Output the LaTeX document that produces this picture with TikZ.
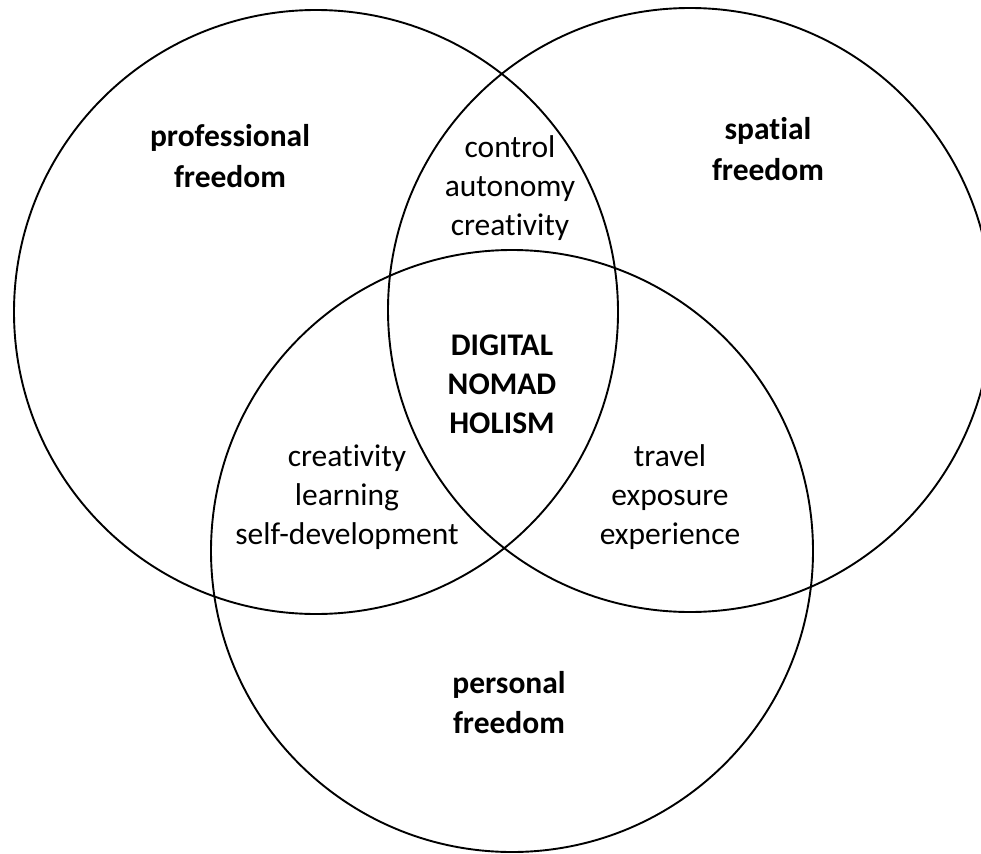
\documentclass[tikz,border=0pt]{standalone}
\usepackage{fontspec}
\setmainfont{Carlito}[Ligatures=NoCommon]
\begin{document}
\begin{tikzpicture}[x=1pt,y=-1pt,
  ring/.style={draw=black,line width=1.9pt},
  lbl/.style={align=center,anchor=base,inner sep=0pt,font=\fontsize{31.5}{39}\selectfont},
  blbl/.style={lbl,font=\fontsize{31.5}{40}\selectfont\bfseries}]
\useasboundingbox (0,0) rectangle (981,853);
\clip (0,0) rectangle (981,853);
\draw[ring] (316,312) circle[radius=302];
\draw[ring] (690,310) circle[radius=302];
\draw[ring] (512,551) circle[radius=301];
\node[blbl] (prof) at (230,187) {professional\\freedom};
\node[blbl] (spat) at (768,180) {spatial\\freedom};
\node[blbl] (pers) at (509,733) {personal\\freedom};
\node[lbl] (ctrl) at (510,235) {control\\autonomy\\creativity};
\node[blbl,font=\fontsize{31.5}{39}\selectfont\bfseries] (dnh) at (502,433) {DIGITAL\\NOMAD\\HOLISM};
\node[lbl] (crea) at (347,544) {creativity\\learning\\self-development};
\node[lbl] (trav) at (670,544) {travel\\exposure\\experience};
\end{tikzpicture}
\end{document}
